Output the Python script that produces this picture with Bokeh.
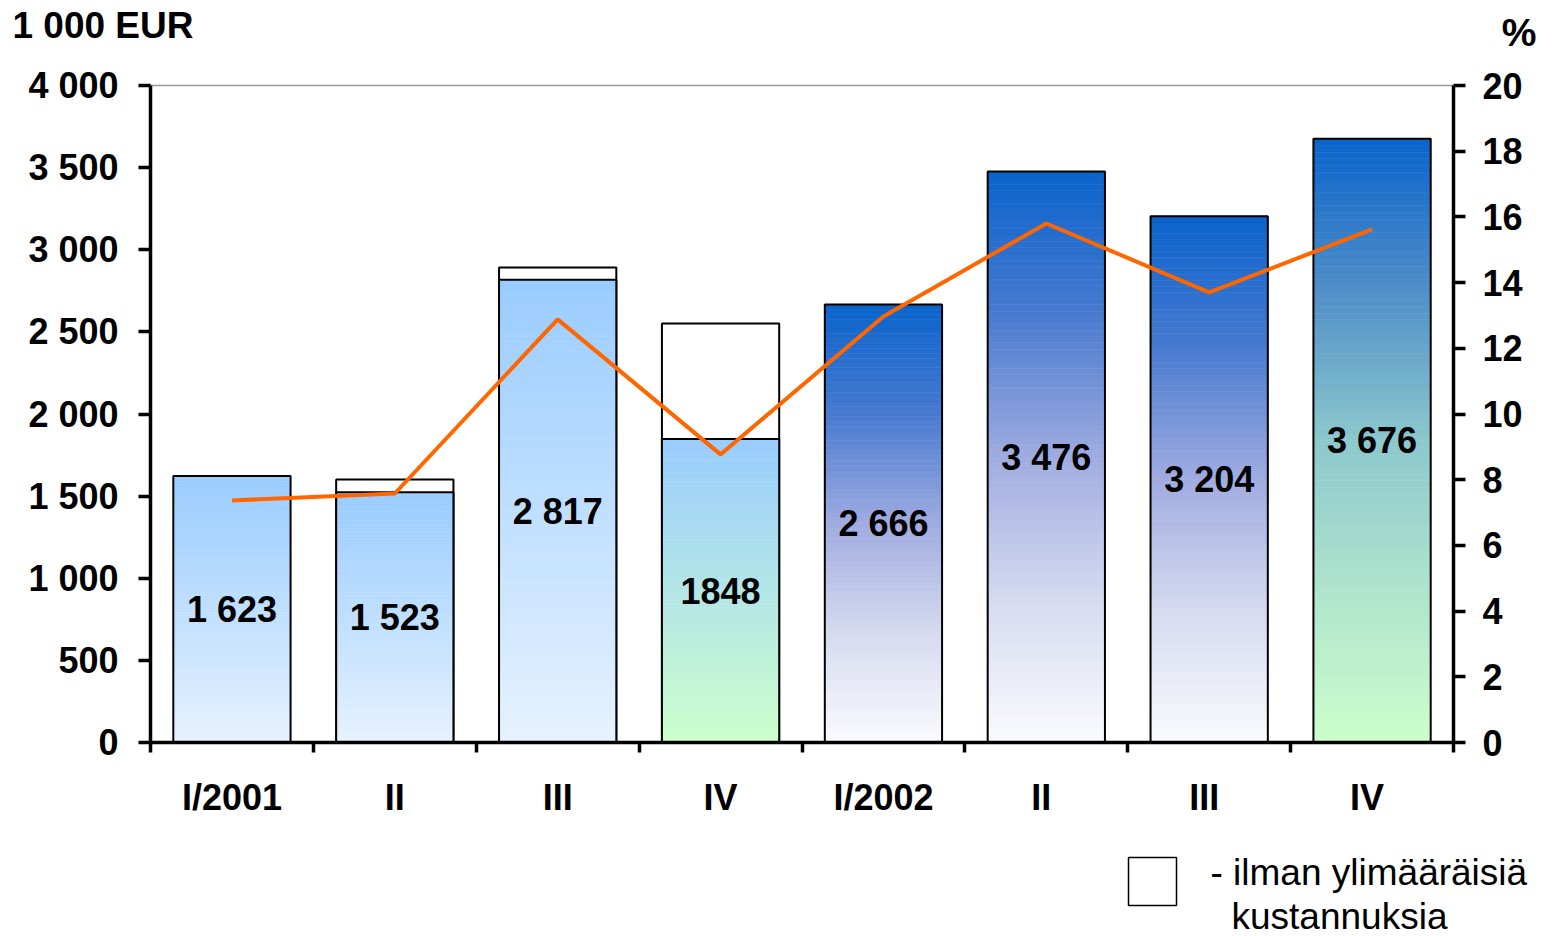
from bokeh.plotting import figure
from bokeh.layouts import column
from bokeh.models import Range1d, LinearAxis, FixedTicker
from bokeh.embed import file_html
from bokeh.resources import INLINE
from bokeh.core.properties import value

# ---- data ----
categories = ["I/2001", "II", "III", "IV", "I/2002", "II ", "III ", "IV "]
results = [1623, 1523, 2817, 1848, 2666, 3476, 3204, 3676]
result_labels = ["1 623", "1 523", "2 817", "1848", "2 666", "3 476", "3 204", "3 676"]
without_extra = [None, 1601, 2892, 2551, None, None, None, None]
percent = [7.37, 7.58, 12.88, 8.77, 12.97, 15.8, 13.7, 15.62]
fill_style = ["light", "light", "light", "lightgreen", "dark", "dark", "dark", "darkgreen"]
y_ticks = [0, 500, 1000, 1500, 2000, 2500, 3000, 3500, 4000]
y_tick_labels = ["0", "500", "1 000", "1 500", "2 000", "2 500", "3 000", "3 500", "4 000"]
pct_ticks = [0, 2, 4, 6, 8, 10, 12, 14, 16, 18, 20]
left_title = "1 000 EUR"
right_title = "%"
legend_lines = ["- ilman ylimääräisiä", "kustannuksia"]

# gradient stops (fraction from bar bottom, rgb)
gradients = {
    "light": [(0.0, (230, 242, 255)), (1.0, (153, 204, 255))],
    "lightgreen": [(0.0, (204, 255, 204)), (1.0, (153, 204, 255))],
    "dark": [(0.0, (250, 251, 253)), (0.25, (214, 218, 240)), (0.5, (160, 172, 224)),
             (0.75, (72, 122, 208)), (1.0, (10, 100, 204))],
    "darkgreen": [(0.0, (204, 255, 204)), (0.25, (175, 228, 205)), (0.5, (140, 200, 205)),
                  (0.75, (80, 142, 200)), (1.0, (10, 100, 204))],
}

FONT = "Liberation Sans"
BAR_W = 0.72
N_SLICES = 90
W = 1545
DY = 13  # baseline correction for text glyphs in the strips


def grad_color(style, f):
    stops = gradients[style]
    for (f0, c0), (f1, c1) in zip(stops[:-1], stops[1:]):
        if f0 <= f <= f1:
            t = (f - f0) / (f1 - f0)
            c = [round(a + (b - a) * t) for a, b in zip(c0, c1)]
            return "#%02x%02x%02x" % tuple(c)
    return "#%02x%02x%02x" % stops[-1][1]


def blank_fig(h):
    f = figure(width=W, height=h, x_range=Range1d(0, W), y_range=Range1d(h, 0),
               output_backend="svg", toolbar_location=None, title_location=None,
               x_axis_location=None, y_axis_location=None,
               min_border=0, min_border_left=0, min_border_right=0,
               min_border_top=0, min_border_bottom=0, frame_align=False)
    f.xgrid.visible = False
    f.ygrid.visible = False
    f.outline_line_color = None
    f.background_fill_color = "white"
    f.border_fill_color = "white"
    return f


n = len(categories)
centers = [i + 0.5 for i in range(n)]

# ---- top strip: axis titles ----
TOP_H = 60
top = blank_fig(TOP_H)
top.text(x=[12], y=[38 - DY], text=[left_title], text_align="left", text_baseline="alphabetic",
         text_font=value(FONT), text_font_style="bold", text_font_size="37px", text_color="black")
top.text(x=[1536], y=[45 - DY], text=[right_title], text_align="right", text_baseline="alphabetic",
         text_font=value(FONT), text_font_style="bold", text_font_size="39px", text_color="black")

# ---- main chart ----
MAIN_H = 780
p = figure(width=W, height=MAIN_H, x_range=Range1d(0, n), y_range=Range1d(0, 4000),
           output_backend="svg", toolbar_location=None, frame_align=False,
           min_border_left=150, min_border_right=W - 1453, min_border_top=85 - TOP_H,
           min_border_bottom=TOP_H + MAIN_H - 742)
p.extra_y_ranges = {"pct": Range1d(0, 20)}
p.xgrid.visible = False
p.ygrid.visible = False
p.background_fill_color = "white"
p.border_fill_color = "white"
p.outline_line_color = "#999999"
p.outline_line_width = 1.5


def style_axis(ax):
    ax.axis_line_width = 3.5
    ax.axis_line_color = "black"
    ax.major_tick_line_width = 3.5
    ax.major_tick_line_color = "black"
    ax.major_tick_in = 0
    ax.major_tick_out = 12
    ax.minor_tick_out = 0
    ax.minor_tick_in = 0
    ax.major_label_text_font = FONT
    ax.major_label_text_font_style = "bold"
    ax.major_label_text_font_size = "36px"
    ax.major_label_text_color = "black"


ya = p.yaxis[0]
ya.ticker = FixedTicker(ticks=y_ticks, minor_ticks=[])
ya.major_label_overrides = {t: l for t, l in zip(y_ticks, y_tick_labels)}
style_axis(ya)
ya.major_label_standoff = 20

ra = LinearAxis(y_range_name="pct", ticker=FixedTicker(ticks=pct_ticks, minor_ticks=[]))
style_axis(ra)
ra.major_label_standoff = 17
p.add_layout(ra, "right")

xa = p.xaxis[0]
xa.ticker = FixedTicker(ticks=centers, minor_ticks=list(range(n + 1)))
xa.major_label_overrides = {c: l for c, l in zip(centers, categories)}
style_axis(xa)
xa.major_tick_out = 0
xa.minor_tick_out = 10
xa.minor_tick_line_width = 3.5
xa.minor_tick_line_color = "black"
xa.major_label_standoff = 24

# white "without extra costs" bars
wi = [i for i, v in enumerate(without_extra) if v is not None]
p.quad(left=[i + 0.5 - BAR_W / 2 for i in wi], right=[i + 0.5 + BAR_W / 2 for i in wi],
       bottom=0, top=[without_extra[i] for i in wi],
       fill_color="white", line_color="black", line_width=2)

# gradient bars
L, R, B, T, C = [], [], [], [], []
for i, v in enumerate(results):
    for k in range(N_SLICES):
        L.append(i + 0.5 - BAR_W / 2)
        R.append(i + 0.5 + BAR_W / 2)
        B.append(v * k / N_SLICES)
        T.append(v * (k + 1) / N_SLICES)
        C.append(grad_color(fill_style[i], (k + 0.5) / N_SLICES))
p.quad(left=L, right=R, bottom=B, top=T, fill_color=C, line_color=C, line_width=0.6)
p.quad(left=[c - BAR_W / 2 for c in centers], right=[c + BAR_W / 2 for c in centers],
       bottom=0, top=results, fill_color=None, line_color="black", line_width=2)

# percent line
p.line(x=centers, y=percent, y_range_name="pct", line_color="#FF6600", line_width=4)

# value labels
p.text(x=centers, y=[v / 2 for v in results], text=result_labels,
       text_align="center", text_baseline="middle",
       text_font=value(FONT), text_font_style="bold", text_font_size="36px", text_color="black")

# ---- bottom strip: legend ----
BOT_Y0 = TOP_H + MAIN_H
BOT_H = 936 - BOT_Y0
bot = blank_fig(BOT_H)
bot.quad(left=[1128], right=[1176], top=[857 - BOT_Y0], bottom=[905 - BOT_Y0],
         fill_color="white", line_color="black", line_width=1.5)
bot.text(x=[1210, 1231], y=[885 - BOT_Y0 - DY, 929 - BOT_Y0 - DY], text=legend_lines,
         text_align="left", text_baseline="alphabetic",
         text_font=value(FONT), text_font_size="37px", text_color="black")

layout = column(top, p, bot, spacing=0)
open("out.html", "w").write(file_html(layout, INLINE))
